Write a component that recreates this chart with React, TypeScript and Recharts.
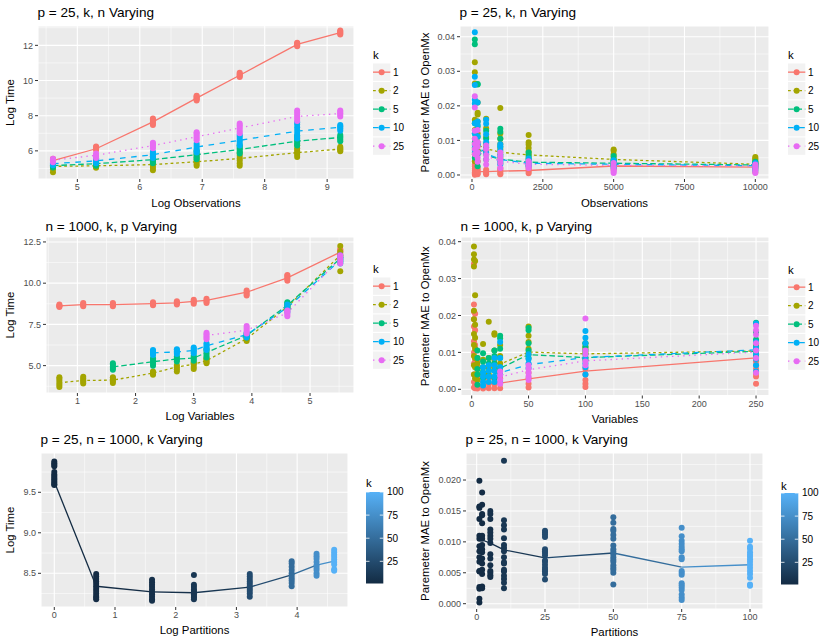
import { ComposedChart, Scatter, Line, XAxis, YAxis, CartesianGrid, Legend } from 'recharts';

const FONT = '"Liberation Sans", Arial, Helvetica, sans-serif';
const W = 830;
const H = 642;

// discrete k (colour + linetype)
const kLevels = ['1', '2', '5', '10', '25'];
const kColors = ['#F8766D', '#A3A500', '#00BF7D', '#00B0F6', '#E76BF3'];
const kDashes = ['', '2.8 2.8', '5.6 2.8', '5.6 5.6', '1.4 4.2'];

// ---- p = 25, k, n varying ----
const obsLog = [4.61, 5.3, 6.21, 6.91, 7.6, 8.52, 9.21];
const obsN = [100, 200, 500, 1000, 2000, 5000, 10000];

const timeObsMean = [
  [5.45, 6.12, 7.65, 9.0, 10.3, 12.05, 12.72],
  [5.12, 5.15, 5.22, 5.38, 5.57, 5.9, 6.1],
  [5.16, 5.27, 5.5, 5.78, 6.08, 6.55, 6.76],
  [5.27, 5.43, 5.78, 6.22, 6.6, 7.12, 7.34],
  [5.47, 5.75, 6.3, 6.8, 7.3, 7.96, 8.12],
];
const timeObsPts = [
  [[5.36, 5.42, 5.47, 5.52, 5.55], [6.05, 6.1, 6.15, 6.2, 6.25], [7.47, 7.56, 7.63, 7.7, 7.78, 7.84], [8.86, 8.93, 8.98, 9.04, 9.1, 9.14], [10.2, 10.26, 10.31, 10.37, 10.44], [11.95, 12.0, 12.05, 12.1, 12.15], [12.62, 12.68, 12.73, 12.79, 12.85]],
  [[4.78, 4.95, 5.05, 5.12, 5.18], [5.04, 5.08, 5.12, 5.15, 5.18], [4.9, 5.02, 5.14, 5.25, 5.38, 5.5], [5.15, 5.25, 5.36, 5.48, 5.62, 5.78], [5.15, 5.3, 5.45, 5.58, 5.72, 5.88], [5.65, 5.78, 5.9, 6.02, 6.15, 6.32], [5.98, 6.05, 6.1, 6.16, 6.24]],
  [[5.05, 5.1, 5.15, 5.2], [5.15, 5.2, 5.26, 5.32], [5.3, 5.4, 5.5, 5.6, 5.7, 5.76], [5.52, 5.62, 5.74, 5.84, 5.95, 6.02], [5.85, 5.95, 6.05, 6.15, 6.24, 6.32], [6.3, 6.42, 6.52, 6.62, 6.74, 6.86], [6.55, 6.65, 6.74, 6.82, 6.9]],
  [[5.18, 5.24, 5.3, 5.36], [5.3, 5.38, 5.45, 5.52, 5.58], [5.6, 5.7, 5.78, 5.86, 5.95], [5.9, 6.02, 6.15, 6.28, 6.4], [6.3, 6.42, 6.55, 6.68, 6.8, 6.9], [6.7, 6.86, 7.02, 7.18, 7.34, 7.5, 7.62], [7.15, 7.24, 7.32, 7.4, 7.47]],
  [[5.35, 5.42, 5.48, 5.55], [5.6, 5.68, 5.76, 5.85], [6.15, 6.24, 6.32, 6.4, 6.46], [6.6, 6.7, 6.8, 6.9, 7.0, 7.06], [7.0, 7.12, 7.24, 7.36, 7.46, 7.56], [7.7, 7.82, 7.94, 8.06, 8.18, 8.3], [7.95, 8.05, 8.14, 8.22, 8.3]],
];

const maeObsMean = [
  [0.0009, 0.001, 0.001, 0.0011, 0.0013, 0.0026, 0.0023],
  [0.0095, 0.0087, 0.0076, 0.0066, 0.0058, 0.0045, 0.0031],
  [0.0102, 0.0078, 0.0056, 0.0046, 0.0037, 0.0034, 0.0029],
  [0.0098, 0.0082, 0.0062, 0.0045, 0.0034, 0.0031, 0.0027],
  [0.0088, 0.0066, 0.0055, 0.004, 0.0031, 0.0028, 0.0026],
];
const maeObsPts = [
  [[0.0001, 0.0004, 0.0008, 0.0012, 0.0018, 0.0025, 0.003], [0.0002, 0.0006, 0.001, 0.0015, 0.002], [0.0002, 0.0006, 0.001, 0.0015], [0.0002, 0.0006, 0.0011, 0.0016, 0.002], [0.0005, 0.001, 0.0015, 0.002, 0.0025], [0.0015, 0.002, 0.0026, 0.003, 0.0035], [0.0008, 0.0015, 0.002, 0.0025, 0.003, 0.0035]],
  [[0.004, 0.006, 0.0075, 0.009, 0.0105, 0.013, 0.016, 0.0265, 0.0297, 0.0326], [0.004, 0.007, 0.0095, 0.012, 0.0155, 0.0175, 0.018, 0.021], [0.007, 0.009, 0.011, 0.0135, 0.0163], [0.005, 0.0075, 0.009, 0.0105, 0.012, 0.0194], [0.005, 0.006, 0.0068, 0.0078, 0.0088, 0.0095, 0.0116], [0.004, 0.0045, 0.0052, 0.006, 0.007, 0.0074], [0.003, 0.0035, 0.004, 0.0044, 0.0048, 0.0052]],
  [[0.005, 0.0065, 0.008, 0.0095, 0.012, 0.015, 0.0378, 0.0392], [0.0025, 0.006, 0.0085, 0.011, 0.014, 0.0262, 0.0263], [0.0045, 0.006, 0.008, 0.0105, 0.0128], [0.0035, 0.006, 0.0082, 0.0105, 0.0125, 0.0134], [0.0028, 0.0035, 0.0045, 0.0055, 0.0065], [0.0028, 0.0032, 0.004, 0.0045, 0.0055], [0.0022, 0.0026, 0.003, 0.0034, 0.0038]],
  [[0.007, 0.0085, 0.012, 0.015, 0.0207, 0.0218, 0.026, 0.0284, 0.0413], [0.0065, 0.009, 0.0112, 0.0145, 0.0155, 0.021], [0.0065, 0.0095, 0.0118, 0.0148, 0.016], [0.003, 0.004, 0.0055, 0.007, 0.0082, 0.0089], [0.0025, 0.003, 0.0035, 0.0042, 0.0048], [0.002, 0.0025, 0.003, 0.0036, 0.0043], [0.0012, 0.0018, 0.0025, 0.003, 0.0035]],
  [[0.006, 0.0075, 0.009, 0.0105, 0.0128, 0.0195, 0.0228], [0.0038, 0.005, 0.0065, 0.0082, 0.0095, 0.013], [0.003, 0.0045, 0.0058, 0.0075, 0.0085], [0.002, 0.0035, 0.0045, 0.0055, 0.0065], [0.002, 0.0025, 0.003, 0.0035, 0.004], [0.0006, 0.001, 0.0015, 0.0025, 0.0035], [0.0006, 0.0012, 0.002, 0.0025, 0.003]],
];

// ---- n = 1000, k, p varying (each k starts where p >= k) ----
const varP = [2, 3, 5, 10, 15, 20, 25, 50, 100, 250];
const varLog = [0.69, 1.1, 1.61, 2.3, 2.71, 3.0, 3.22, 3.91, 4.61, 5.52];
const varStart = [0, 0, 2, 3, 6];

const timeVarMean = [
  [8.62, 8.7, 8.7, 8.76, 8.8, 8.9, 8.96, 9.45, 10.32, 11.88],
  [3.96, 4.1, 4.12, 4.55, 4.92, 5.08, 5.3, 6.63, 8.56, 11.7],
  [4.92, 5.24, 5.4, 5.46, 5.8, 6.83, 8.66, 11.5],
  [5.77, 5.83, 5.92, 6.2, 6.88, 8.52, 11.4],
  [6.83, 7.15, 8.2, 11.5],
];
const timeVarPts = [
  [[8.55, 8.6, 8.65, 8.7], [8.6, 8.67, 8.74, 8.8], [8.6, 8.67, 8.74, 8.8], [8.66, 8.72, 8.78, 8.85], [8.7, 8.77, 8.84, 8.9], [8.75, 8.84, 8.92, 9.0], [8.8, 8.88, 8.96, 9.05], [9.25, 9.35, 9.45, 9.55], [10.15, 10.25, 10.35, 10.45, 10.5], [11.7, 11.8, 11.9, 12.0, 12.05]],
  [[3.7, 3.82, 3.95, 4.08, 4.2, 4.3], [3.92, 4.02, 4.12, 4.22, 4.32], [3.95, 4.05, 4.15, 4.25, 4.3], [4.45, 4.52, 4.58, 4.65], [4.65, 4.78, 4.9, 5.02], [4.8, 4.92, 5.05, 5.15, 5.2], [5.15, 5.22, 5.3, 5.38, 5.45], [6.5, 6.58, 6.65, 6.7], [8.45, 8.52, 8.6, 8.68], [10.72, 11.6, 11.9, 12.25]],
  [[4.75, 4.85, 4.95, 5.05, 5.15], [5.0, 5.12, 5.24, 5.35, 5.45], [5.25, 5.35, 5.45, 5.55], [5.3, 5.4, 5.5, 5.6], [5.5, 5.62, 5.75, 5.88, 6.0], [6.7, 6.78, 6.86, 6.95], [8.5, 8.6, 8.7, 8.8, 8.85], [11.3, 11.42, 11.55, 11.7]],
  [[5.65, 5.73, 5.8, 5.88, 5.95], [5.7, 5.78, 5.86, 5.94, 6.0], [5.75, 5.84, 5.93, 6.02, 6.1], [5.95, 6.05, 6.15, 6.25, 6.35], [6.7, 6.8, 6.9, 7.0], [8.25, 8.4, 8.55, 8.7], [11.2, 11.3, 11.4, 11.5, 11.55]],
  [[6.6, 6.7, 6.8, 6.9, 7.0], [6.95, 7.07, 7.18, 7.3, 7.4], [8.0, 8.1, 8.2, 8.3, 8.35], [11.2, 11.35, 11.5, 11.6, 11.7]],
];

const maeVarMean = [
  [0.0015, 0.0013, 0.0012, 0.0013, 0.0014, 0.0015, 0.0017, 0.0028, 0.0049, 0.0085],
  [0.009, 0.0078, 0.0062, 0.0055, 0.0058, 0.0062, 0.0068, 0.0101, 0.0096, 0.0104],
  [0.0052, 0.0048, 0.005, 0.0053, 0.0057, 0.0094, 0.0086, 0.0103],
  [0.0033, 0.0038, 0.0042, 0.0045, 0.0067, 0.0086, 0.0107],
  [0.0033, 0.0053, 0.0077, 0.0101],
];
const maeVarPts = [
  [[0.0005, 0.002, 0.004, 0.007, 0.01, 0.013, 0.017, 0.019, 0.021, 0.023, 0.034], [0.0003, 0.0015, 0.004, 0.008, 0.012, 0.016, 0.0205], [0.0002, 0.001, 0.003, 0.006, 0.008], [0.0002, 0.0008, 0.002, 0.0035], [0.0003, 0.0015, 0.003], [0.0003, 0.0015, 0.003], [0.0003, 0.0015, 0.003], [0.0005, 0.0015, 0.003, 0.0045], [0.0006, 0.0015, 0.0025, 0.004, 0.0055], [0.0015, 0.0035, 0.0042, 0.0055, 0.0065, 0.0075, 0.0085]],
  [[0.004, 0.0065, 0.009, 0.012, 0.015, 0.019, 0.0213, 0.0333, 0.0352, 0.0366, 0.0387], [0.003, 0.006, 0.0085, 0.011, 0.014, 0.0175, 0.0255, 0.0348], [0.0025, 0.004, 0.0055, 0.007, 0.0085], [0.004, 0.006, 0.008, 0.0123], [0.004, 0.006, 0.0085, 0.0183], [0.006, 0.008, 0.0105, 0.0148, 0.0152], [0.005, 0.007, 0.009, 0.012], [0.0095, 0.011, 0.0128, 0.0145, 0.017], [0.0085, 0.01, 0.011, 0.0115, 0.0125], [0.0095, 0.0105, 0.0115, 0.0125]],
  [[0.0012, 0.004, 0.0055, 0.0085, 0.0105], [0.003, 0.0045, 0.006, 0.0075, 0.0098], [0.0035, 0.005, 0.007, 0.0085], [0.003, 0.005, 0.007, 0.009, 0.0105], [0.004, 0.006, 0.0085, 0.011, 0.0138, 0.0145], [0.0085, 0.0105, 0.0125, 0.016, 0.0166], [0.008, 0.0095, 0.0105, 0.0115, 0.0125], [0.009, 0.0105, 0.0115, 0.0135, 0.0155, 0.018]],
  [[0.001, 0.002, 0.0035, 0.0045, 0.006], [0.002, 0.0035, 0.005, 0.0065], [0.002, 0.0035, 0.005, 0.0065, 0.0085], [0.002, 0.004, 0.006, 0.0085, 0.0128], [0.0058, 0.007, 0.0082, 0.0095], [0.004, 0.006, 0.007, 0.0085, 0.0125, 0.014, 0.0158], [0.0048, 0.0065, 0.0082, 0.0095, 0.0112, 0.0128, 0.0178]],
  [[0.0015, 0.0025, 0.0038, 0.0048], [0.0025, 0.0035, 0.0045, 0.0055, 0.0065], [0.0065, 0.0075, 0.0095, 0.0105, 0.0192], [0.0045, 0.0085, 0.0105, 0.0125, 0.0148, 0.016, 0.0172]],
];

// ---- p = 25, n = 1000, k varying (continuous k) ----
const partK = [1, 2, 5, 10, 25, 50, 75, 100];
const partLog = [0, 0.69, 1.61, 2.3, 3.22, 3.91, 4.32, 4.61];
const kBarTicks = [25, 50, 75, 100];

const timePartMean = [9.63, 8.34, 8.27, 8.26, 8.33, 8.48, 8.6, 8.65];
const timePartPts = [
  [9.88, 9.86, 9.84, 9.82, 9.75, 9.72, 9.7, 9.68, 9.66, 9.64, 9.62, 9.6, 9.59],
  [8.49, 8.46, 8.43, 8.4, 8.37, 8.34, 8.31, 8.28, 8.25, 8.22, 8.2, 8.18],
  [8.42, 8.39, 8.36, 8.33, 8.3, 8.27, 8.24, 8.21, 8.18, 8.16],
  [8.48, 8.36, 8.33, 8.3, 8.28, 8.26, 8.24, 8.22, 8.2, 8.18],
  [8.49, 8.46, 8.43, 8.4, 8.37, 8.34, 8.31, 8.28, 8.25, 8.21],
  [8.65, 8.62, 8.58, 8.54, 8.5, 8.47, 8.44, 8.41, 8.38, 8.34],
  [8.74, 8.71, 8.68, 8.64, 8.6, 8.57, 8.54, 8.5, 8.47],
  [8.79, 8.76, 8.73, 8.7, 8.67, 8.64, 8.61, 8.55, 8.53],
];

const maePartMean = [0.0105, 0.0103, 0.0098, 0.0087, 0.0074, 0.0082, 0.0059, 0.0063];
const maePartPts = [
  [0.0199, 0.0157, 0.0155, 0.0137, 0.011, 0.0105, 0.0093, 0.0085, 0.0075, 0.0068, 0.0053, 0.0052, 0.0027, 0.0024, 0.0008, 0.0002],
  [0.018, 0.016, 0.0145, 0.0143, 0.013, 0.011, 0.0105, 0.0095, 0.0088, 0.0083, 0.0073, 0.0065, 0.0055, 0.0048, 0.0028, 0.0025],
  [0.015, 0.0145, 0.0137, 0.012, 0.0115, 0.011, 0.0105, 0.0098, 0.008, 0.0073, 0.0062, 0.0053, 0.005, 0.0046, 0.0043],
  [0.0231, 0.0135, 0.0127, 0.012, 0.0106, 0.0095, 0.009, 0.0085, 0.0075, 0.0067, 0.0065, 0.0055, 0.0052, 0.0045, 0.004, 0.0034, 0.0025],
  [0.0118, 0.0115, 0.0112, 0.0108, 0.0088, 0.0085, 0.0082, 0.0078, 0.007, 0.0068, 0.0063, 0.0058, 0.0055, 0.0052, 0.0048, 0.0039],
  [0.014, 0.0131, 0.0121, 0.0118, 0.0111, 0.0105, 0.0094, 0.0088, 0.0084, 0.008, 0.0075, 0.0071, 0.0068, 0.0062, 0.0058, 0.0055, 0.005, 0.0031],
  [0.0123, 0.0109, 0.0102, 0.0097, 0.0092, 0.0088, 0.0085, 0.0075, 0.0072, 0.0053, 0.005, 0.0047, 0.0033, 0.003, 0.0026, 0.0022, 0.0015, 0.001, 0.0006],
  [0.0102, 0.0092, 0.0089, 0.0083, 0.0079, 0.0076, 0.0072, 0.0068, 0.0063, 0.0058, 0.0053, 0.0048, 0.0042, 0.0031, 0.0029],
];

type Pt = { x: number; y: number };
type Series = { key: string; color: string; dash?: string; pts: Pt[]; line: Pt[] };

const toLine = (xs: number[], ys: number[]): Pt[] => ys.map((y, i) => ({ x: xs[i], y }));
const toCloud = (xs: number[], groups: number[][]): Pt[] =>
  groups.flatMap((g, i) => g.map((y) => ({ x: xs[i], y })));

// ggplot's default continuous scale, #132B43 -> #56B1F7
const lowC = [0x13, 0x2b, 0x43];
const highC = [0x56, 0xb1, 0xf7];
function kShade(k: number) {
  const t = (k - 1) / 99;
  const c = lowC.map((v, i) => Math.round(v + (highC[i] - v) * t));
  return `rgb(${c.join(',')})`;
}

function discreteSeries(xs: number[], means: number[][], pts: number[][][], start?: number[]): Series[] {
  return kLevels.map((k, i) => {
    const xx = xs.slice(start ? start[i] : 0);
    return { key: k, color: kColors[i], dash: kDashes[i], pts: toCloud(xx, pts[i]), line: toLine(xx, means[i]) };
  });
}

// one scatter per k value, then line segments coloured by their starting k
function continuousSeries(xs: number[], means: number[], pts: number[][]): Series[] {
  const clouds = partK.map((k, i) => ({
    key: `p${k}`,
    color: kShade(k),
    pts: pts[i].map((y) => ({ x: xs[i], y })),
    line: [],
  }));
  const segs = xs.slice(0, -1).map((x, i) => ({
    key: `s${partK[i]}`,
    color: kShade(partK[i]),
    pts: [],
    line: toLine(xs.slice(i, i + 2), means.slice(i, i + 2)),
  }));
  return [...clouds, ...segs];
}

function KeyLegend() {
  return (
    <svg width={50} height={112} style={{ display: 'block', overflow: 'visible' }} fontFamily={FONT} fontWeight={400}>
      <text x={1} y={14} fontSize={11.4} fill="#000">k</text>
      {kLevels.map((lab, i) => {
        const y = 18.5 + i * 18.5;
        const cy = y + 8.65;
        return (
          <g key={lab}>
            <rect x={1} y={y} width={17.3} height={17.3} fill="#F2F2F2" />
            <line x1={1} x2={18.3} y1={cy} y2={cy} stroke={kColors[i]} strokeWidth={1.3} strokeDasharray={kDashes[i] || undefined} />
            <circle cx={9.65} cy={cy} r={3} fill={kColors[i]} />
            <text x={21} y={cy + 3.5} fontSize={10} fill="#000">{lab}</text>
          </g>
        );
      })}
    </svg>
  );
}

function BarLegend({ id, kY }: { id: string; kY: number }) {
  const top = 17;
  const bot = 108.5;
  const ky = (k: number) => bot - ((k - 1) / 99) * (bot - top);
  return (
    <svg width={50} height={115} style={{ display: 'block', overflow: 'visible' }} fontFamily={FONT} fontWeight={400}>
      <defs>
        <linearGradient id={id} x1="0" y1="1" x2="0" y2="0">
          <stop offset="0" stopColor={kShade(1)} />
          <stop offset="0.5" stopColor={kShade(50.5)} />
          <stop offset="1" stopColor={kShade(100)} />
        </linearGradient>
      </defs>
      <text x={1} y={kY} fontSize={11.4} fill="#000">k</text>
      <rect x={1} y={top} width={17.3} height={bot - top} fill={`url(#${id})`} />
      {kBarTicks.map((k) => (
        <g key={k}>
          <line x1={1} x2={4.5} y1={ky(k)} y2={ky(k)} stroke="#fff" strokeOpacity={0.8} />
          <line x1={14.8} x2={18.3} y1={ky(k)} y2={ky(k)} stroke="#fff" strokeOpacity={0.8} />
          <text x={22} y={ky(k) + 3.4} fontSize={10} fill="#000">{k}</text>
        </g>
      ))}
    </svg>
  );
}

type Spec = {
  x0: number;
  plot: { l: number; t: number; r: number; b: number };
  xDomain: [number, number];
  xTicks: number[];
  xMinor: number[];
  yDomain: [number, number];
  yTicks: number[];
  yMinor: number[];
  yFmt: (v: number) => string;
  title: string;
  titleY: number;
  xTitle: string;
  xTitleY: number;
  yTitle: string;
  yTitleX: number;
  series: Series[];
  legend: JSX.Element;
  legendLeft: number;
  legendTop: number;
};

const fmtInt = (v: number) => String(v);
const fmt1 = (v: number) => v.toFixed(1);
const fmt2 = (v: number) => v.toFixed(2);
const fmt3 = (v: number) => v.toFixed(3);
const tickStyle = { fontSize: 9, fill: '#4D4D4D', fontFamily: FONT };
const maeTicks = [0, 0.01, 0.02, 0.03, 0.04];
const maeMinor = [0.005, 0.015, 0.025, 0.035];
const MAE_TITLE = 'Paremeter MAE to OpenMx';

const specs: Spec[] = [
  {
    x0: 0, plot: { l: 38, t: 26, r: 354, b: 179 },
    xDomain: [4.37, 9.43], xTicks: [5, 6, 7, 8, 9], xMinor: [4.5, 5.5, 6.5, 7.5, 8.5],
    yDomain: [4.4, 13.1], yTicks: [6, 8, 10, 12], yMinor: [5, 7, 9, 11, 13], yFmt: fmtInt,
    title: 'p = 25, k, n Varying', titleY: 16.7,
    xTitle: 'Log Observations', xTitleY: 206.5, yTitle: 'Log Time', yTitleX: 14,
    series: discreteSeries(obsLog, timeObsMean, timeObsPts),
    legend: <KeyLegend />, legendLeft: 372, legendTop: 45,
  },
  {
    x0: 415, plot: { l: 460, t: 26, r: 769, b: 179 },
    xDomain: [-423, 10483], xTicks: [0, 2500, 5000, 7500, 10000], xMinor: [1250, 3750, 6250, 8750],
    yDomain: [-0.00116, 0.0431], yTicks: maeTicks, yMinor: maeMinor, yFmt: fmt2,
    title: 'p = 25, k, n Varying', titleY: 16.7,
    xTitle: 'Observations', xTitleY: 206.8, yTitle: MAE_TITLE, yTitleX: 429,
    series: discreteSeries(obsN, maeObsMean, maeObsPts),
    legend: <KeyLegend />, legendLeft: 787, legendTop: 45,
  },
  {
    x0: 0, plot: { l: 46, t: 237, r: 354, b: 393 },
    xDomain: [0.46, 5.756], xTicks: [1, 2, 3, 4, 5], xMinor: [0.5, 1.5, 2.5, 3.5, 4.5, 5.5],
    yDomain: [3.34, 12.8], yTicks: [5, 7.5, 10, 12.5], yMinor: [3.75, 6.25, 8.75, 11.25], yFmt: fmt1,
    title: 'n = 1000, k, p Varying', titleY: 230.7,
    xTitle: 'Log Variables', xTitleY: 419.6, yTitle: 'Log Time', yTitleX: 14,
    series: discreteSeries(varLog, timeVarMean, timeVarPts, varStart),
    legend: <KeyLegend />, legendLeft: 372, legendTop: 259.3,
  },
  {
    x0: 415, plot: { l: 461, t: 237, r: 769, b: 395.5 },
    xDomain: [-9.4, 261.4], xTicks: [0, 50, 100, 150, 200, 250], xMinor: [25, 75, 125, 175, 225],
    yDomain: [-0.00168, 0.04127], yTicks: maeTicks, yMinor: maeMinor, yFmt: fmt2,
    title: 'n = 1000, k, p Varying', titleY: 230.7,
    xTitle: 'Variables', xTitleY: 423, yTitle: MAE_TITLE, yTitleX: 429,
    series: discreteSeries(varP, maeVarMean, maeVarPts, varStart),
    legend: <KeyLegend />, legendLeft: 787, legendTop: 260,
  },
  {
    x0: 0, plot: { l: 41, t: 453, r: 348, b: 607 },
    xDomain: [-0.219, 4.838], xTicks: [0, 1, 2, 3, 4], xMinor: [0.5, 1.5, 2.5, 3.5, 4.5],
    yDomain: [8.084, 9.985], yTicks: [8.5, 9, 9.5], yMinor: [8.25, 8.75, 9.25, 9.75], yFmt: fmt1,
    title: 'p = 25, n = 1000, k Varying', titleY: 444.3,
    xTitle: 'Log Partitions', xTitleY: 634, yTitle: 'Log Time', yTitleX: 14,
    series: continuousSeries(partLog, timePartMean, timePartPts),
    legend: <BarLegend id="kbar5" kY={12.4} />, legendLeft: 365, legendTop: 475,
  },
  {
    x0: 415, plot: { l: 466, t: 453, r: 763, b: 609 },
    xDomain: [-3.9, 104.75], xTicks: [0, 25, 50, 75, 100], xMinor: [12.5, 37.5, 62.5, 87.5],
    yDomain: [-0.000857, 0.02437], yTicks: [0, 0.005, 0.01, 0.015, 0.02], yMinor: [0.0025, 0.0075, 0.0125, 0.0175, 0.0225], yFmt: fmt3,
    title: 'p = 25, n = 1000, k Varying', titleY: 444.3,
    xTitle: 'Partitions', xTitleY: 635.5, yTitle: MAE_TITLE, yTitleX: 429,
    series: continuousSeries(partK, maePartMean, maePartPts),
    legend: <BarLegend id="kbar6" kY={14.1} />, legendLeft: 780, legendTop: 476,
  },
];

const dotShape = (color: string) => (p: any) => <circle cx={p.cx} cy={p.cy} r={3} fill={color} />;

function Panel({ spec }: { spec: Spec }) {
  const { plot } = spec;
  const xAxisH = 30;
  const midY = (plot.t + plot.b) / 2;
  const midX = (plot.l + plot.r) / 2;
  return (
    <div style={{ position: 'absolute', left: 0, top: 0 }}>
      <ComposedChart
        width={W}
        height={H}
        margin={{ left: spec.x0, top: plot.t, right: W - plot.r, bottom: H - plot.b - xAxisH }}
      >
        <CartesianGrid fill="#EBEBEB" stroke="#FFFFFF" strokeWidth={1.1} />
        <CartesianGrid horizontalValues={spec.yMinor} verticalValues={spec.xMinor} stroke="#FFFFFF" strokeWidth={0.55} />
        <XAxis
          type="number"
          dataKey="x"
          domain={spec.xDomain}
          ticks={spec.xTicks}
          interval={0}
          allowDataOverflow
          height={xAxisH}
          axisLine={false}
          tickSize={3}
          tickLine={{ stroke: '#333333' }}
          tick={tickStyle}
          tickFormatter={fmtInt}
          label={() => (
            <text x={midX} y={spec.xTitleY} textAnchor="middle" fontSize={11.4} fontWeight={400} fontFamily={FONT} fill="#000">
              {spec.xTitle}
            </text>
          )}
        />
        <YAxis
          type="number"
          dataKey="y"
          domain={spec.yDomain}
          ticks={spec.yTicks}
          interval={0}
          allowDataOverflow
          width={plot.l - spec.x0}
          axisLine={false}
          tickSize={3}
          tickLine={{ stroke: '#333333' }}
          tick={tickStyle}
          tickFormatter={spec.yFmt}
          label={() => (
            <text
              transform={`translate(${spec.yTitleX},${midY}) rotate(-90)`}
              textAnchor="middle"
              fontSize={11.4}
              fontWeight={400}
              fontFamily={FONT}
              fill="#000"
            >
              {spec.yTitle}
            </text>
          )}
        />
        {spec.series
          .filter((s) => s.pts.length > 0)
          .map((s) => (
            <Scatter key={`pts-${s.key}`} data={s.pts} fill={s.color} shape={dotShape(s.color)} isAnimationActive={false} />
          ))}
        {spec.series
          .filter((s) => s.line.length > 0)
          .map((s) => (
            <Line
              key={`line-${s.key}`}
              data={s.line}
              dataKey="y"
              type="linear"
              stroke={s.color}
              strokeWidth={1.3}
              strokeDasharray={s.dash || undefined}
              dot={false}
              activeDot={false}
              isAnimationActive={false}
            />
          ))}
        <Legend
          layout="vertical"
          align="center"
          verticalAlign="middle"
          wrapperStyle={{ left: spec.legendLeft, top: spec.legendTop, width: 60, height: 120 }}
          content={() => spec.legend}
        />
      </ComposedChart>
    </div>
  );
}

export default function App() {
  return (
    <div
      style={{
        position: 'absolute',
        left: 0,
        top: 0,
        width: W,
        height: H,
        background: '#fff',
        overflow: 'hidden',
        fontFamily: FONT,
        fontWeight: 400,
      }}
    >
      {specs.map((s, i) => (
        <Panel key={i} spec={s} />
      ))}
      <svg width={W} height={H} style={{ position: 'absolute', left: 0, top: 0, pointerEvents: 'none' }}>
        {specs.map((s, i) => (
          <text key={i} x={s.plot.l - 0.5} y={s.titleY} fontSize={13.6} fontWeight={400} fontFamily={FONT} fill="#000">
            {s.title}
          </text>
        ))}
      </svg>
    </div>
  );
}
